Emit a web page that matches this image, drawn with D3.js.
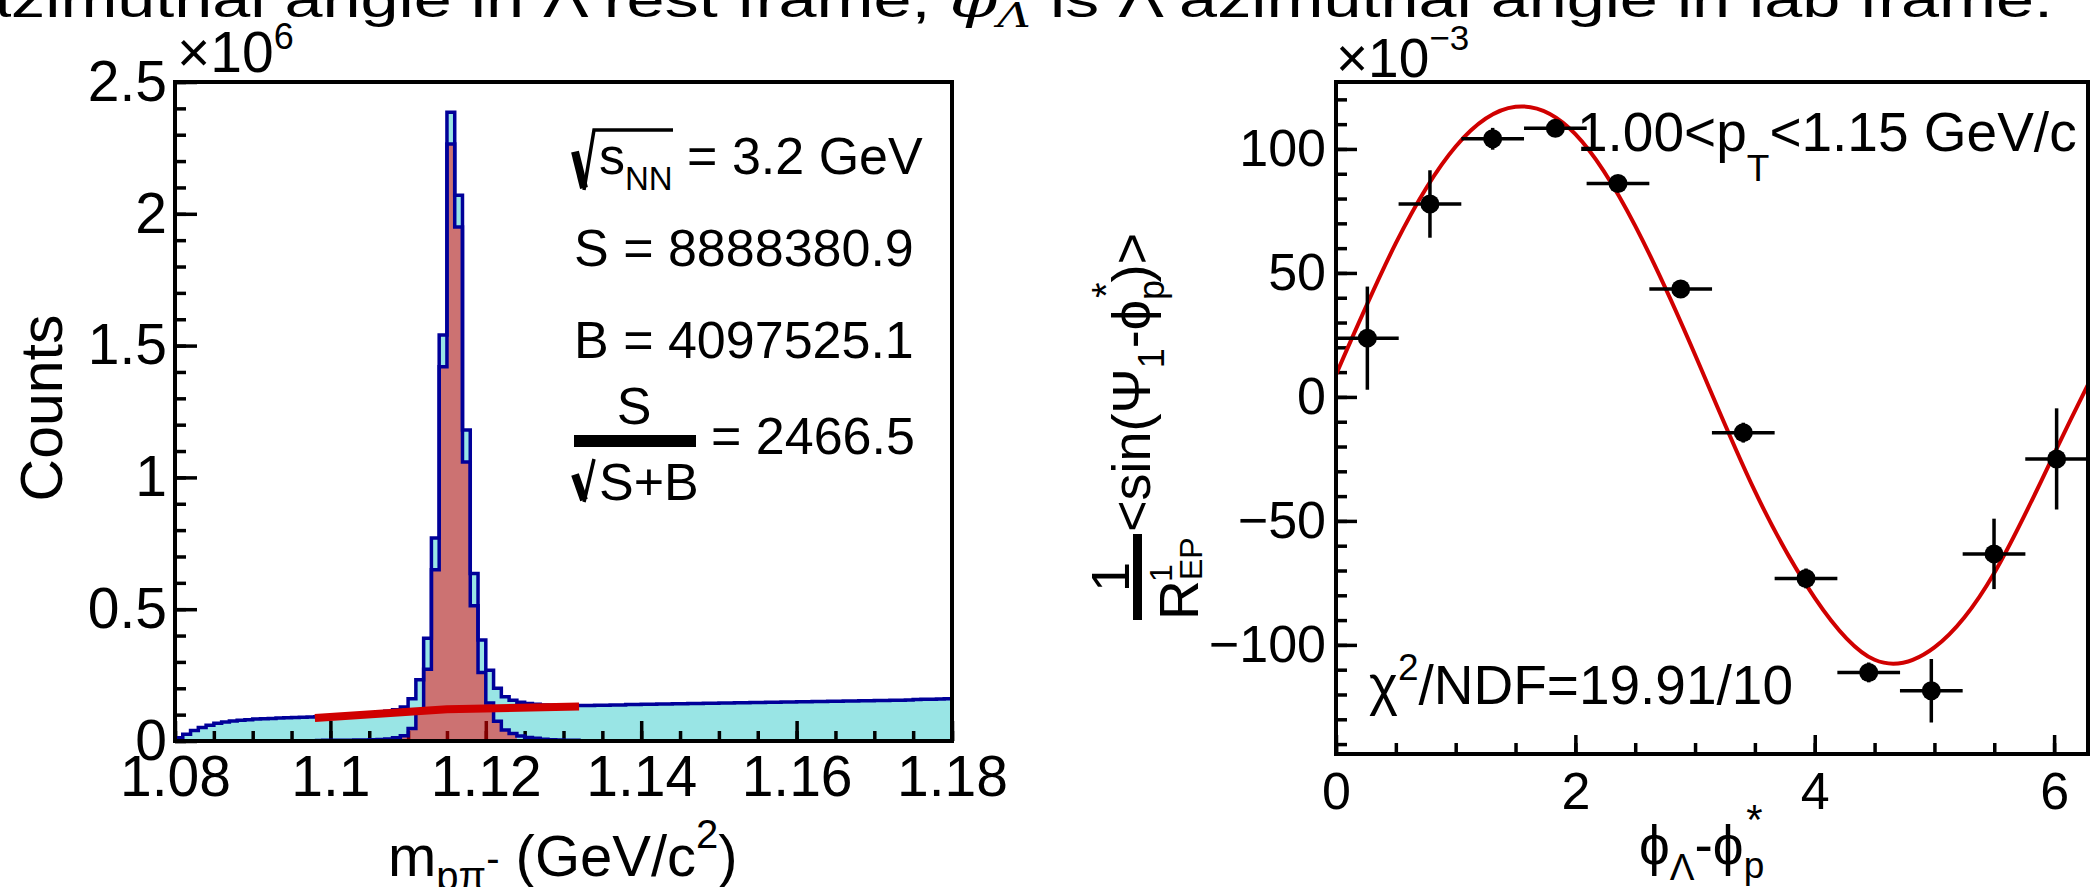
<!DOCTYPE html>
<html>
<head>
<meta charset="utf-8">
<script src="https://cdn.jsdelivr.net/npm/d3@7"></script>
<style>
  body { margin: 0; background: #fff; }
  svg text { font-family: "Liberation Sans", Arial, Helvetica, sans-serif; fill: #000; }
</style>
</head>
<body>
<svg width="2091" height="887"></svg>
<script>
// ---- left panel: p-pi invariant mass, 1 MeV bins, counts in units of 1e6
const massStart = 1.080, binW = 0.001;
const totalCounts = [
  0.012, 0.026, 0.040, 0.051, 0.060, 0.067, 0.072, 0.076, 0.079, 0.081,
  0.083, 0.084, 0.085, 0.087, 0.088, 0.089, 0.090, 0.091, 0.092, 0.093,
  0.095, 0.097, 0.099, 0.101, 0.103, 0.106, 0.109, 0.113, 0.119, 0.129,
  0.160, 0.232, 0.390, 0.770, 1.540, 2.385, 2.070, 1.180, 0.635, 0.383,
  0.268, 0.200, 0.168, 0.155, 0.147, 0.142, 0.139, 0.137, 0.136, 0.135,
  0.135, 0.135, 0.135, 0.135, 0.136, 0.136, 0.137, 0.137, 0.138, 0.138,
  0.139, 0.139, 0.140, 0.140, 0.141, 0.141, 0.142, 0.142, 0.143, 0.143,
  0.144, 0.144, 0.145, 0.145, 0.146, 0.146, 0.147, 0.147, 0.148, 0.148,
  0.149, 0.149, 0.150, 0.150, 0.151, 0.151, 0.152, 0.152, 0.153, 0.153,
  0.154, 0.154, 0.155, 0.155, 0.156, 0.157, 0.158, 0.158, 0.159, 0.160
];
// background subtracted signal, first bin at 1.098
const signalStart = 1.098;
const signalCounts = [
  0.002, 0.003, 0.003, 0.003, 0.003, 0.004, 0.004, 0.005, 0.006, 0.008,
  0.012, 0.020, 0.047, 0.116, 0.272, 0.650, 1.420, 2.265, 1.950, 1.058,
  0.513, 0.260, 0.144, 0.075, 0.042, 0.028, 0.019, 0.013, 0.010, 0.007,
  0.005, 0.004, 0.003, 0.003
];
const signalWindow = [1.109, 1.124];
const bkgFit = [[1.098, 0.087], [1.115, 0.120], [1.132, 0.131]];
const massTicks = [1.08, 1.1, 1.12, 1.14, 1.16, 1.18];
const countTicks = [0, 0.5, 1, 1.5, 2, 2.5];
const infoLines = ["S = 8888380.9", "B = 4097525.1"];

// ---- right panel: <sin(Psi1 - phi_p*)> / R vs phi, units of 1e-3
const phiCenters = [0.262, 0.785, 1.309, 1.833, 2.356, 2.880, 3.403, 3.927, 4.451, 4.974, 5.498, 6.021];
const polValues  = [23.7, 77.8, 104.1, 108.3, 86.1, 43.5, -14.4, -73.2, -111.1, -118.5, -63.3, -25.0];
const polErrors  = [20.8, 13.6, 4.4, 3.0, 3.0, 3.5, 4.0, 4.0, 4.0, 12.8, 14.2, 20.4];
const phiHalfBin = 0.262;
const fitCurve = [[0, 9], [0.5, 62], [1.0, 101], [1.5, 117], [2.0, 106], [2.5, 69], [3.0, 17],
                  [3.5, -38], [4.0, -81], [4.5, -106], [5.0, -101], [5.5, -71], [6.0, -23], [6.283, 5]];
const phiTicks = [0, 2, 4, 6];
const polTicks = [-100, -50, 0, 50, 100];

const svg = d3.select("svg");
const fmt = d => String(+d.toFixed(3));

// small helper for ROOT-like latex: parts with baseline shift s and size f
function rich(sel, parts, base) {
  let cur = 0;
  parts.forEach(p => {
    const s = p.s || 0;
    const ts = sel.append("tspan").attr("dy", s - cur).attr("font-size", p.f || base).text(p.t);
    if (p.x !== undefined) ts.attr("x", p.x);
    if (p.dx !== undefined) ts.attr("dx", p.dx);
    if (p.fam) ts.style("font-family", p.fam);
    if (p.it) ts.style("font-style", "italic");
    cur = s;
  });
  return sel;
}

function sqrtSign(g, x, top, bottom, overTo) {
  const h = bottom - top;
  g.append("line").attr("x1", x + 1).attr("y1", top + h * 0.36).attr("x2", x + 10).attr("y2", bottom - 2)
    .attr("stroke", "#000").attr("stroke-width", 8);
  g.append("polyline").attr("points", `${x + 10},${bottom} ${x + 20},${top} ${overTo || x + 20},${top}`)
    .attr("fill", "none").attr("stroke", "#000").attr("stroke-width", 3.5);
}

// ---- slide text cut at the top
const head = svg.append("text").attr("x", -27).attr("y", 17).attr("font-size", 50)
  .attr("textLength", 2080).attr("lengthAdjust", "spacingAndGlyphs");
rich(head, [
  { t: "azimuthal angle in Λ rest frame, " },
  { t: "φ", fam: "DejaVu Serif", it: true },
  { t: "Λ", f: 34, s: 10, it: true, fam: "DejaVu Serif" },
  { t: " is Λ azimuthal angle in lab frame.", s: 0 }
], 50);

// ================= LEFT PANEL =================
const xL = d3.scaleLinear().domain([1.08, 1.18]).range([175, 952]);
const yL = d3.scaleLinear().domain([0, 2.5]).range([741, 82]);

const totBins = totalCounts.map((v, i) => ({ m: massStart + i * binW, v }));
totBins.push({ m: massStart + totalCounts.length * binW, v: totalCounts[totalCounts.length - 1] });
const sigBins = signalCounts.map((v, i) => ({ m: signalStart + i * binW, v }));
sigBins.push({ m: signalStart + signalCounts.length * binW, v: 0 });

svg.append("clipPath").attr("id", "clipL").append("rect")
  .attr("x", 175).attr("y", 82).attr("width", 777).attr("height", 659);

const areaL = d3.area().curve(d3.curveStepAfter).x(d => xL(d.m)).y0(yL(0)).y1(d => yL(d.v));
const lineL = d3.line().curve(d3.curveStepAfter).x(d => xL(d.m)).y(d => yL(d.v));

const gL = svg.append("g");
gL.append("path").datum(totBins).attr("d", areaL).attr("fill", "#99e5e5").attr("clip-path", "url(#clipL)");

function styleAxis(g, size, w) {
  g.select(".domain").remove();
  g.selectAll("line").attr("stroke", "#000").attr("stroke-width", w);
  g.selectAll("text").attr("font-size", size).attr("fill", "#000")
    .style("font-family", '"Liberation Sans", Arial, sans-serif');
}

gL.append("g").attr("transform", `translate(0,${yL(0)})`)
  .call(d3.axisBottom(xL).tickValues(xL.ticks(20)).tickSize(-10).tickFormat(""))
  .call(g => styleAxis(g, 0, 3.5));
gL.append("g").attr("transform", `translate(0,${yL(0)})`)
  .call(d3.axisBottom(xL).tickValues(massTicks).tickSize(-20).tickPadding(15).tickFormat(fmt))
  .call(g => styleAxis(g, 57, 3.5));
gL.append("g").attr("transform", `translate(${xL(1.08)},0)`)
  .call(d3.axisLeft(yL).tickValues(yL.ticks(25)).tickSize(-11).tickFormat(""))
  .call(g => styleAxis(g, 0, 3.5));
gL.append("g").attr("transform", `translate(${xL(1.08)},0)`)
  .call(d3.axisLeft(yL).tickValues(countTicks).tickSize(-22).tickPadding(8).tickFormat(fmt))
  .call(g => styleAxis(g, 57, 3.5));

// signal in the mass window, semi transparent red
const winBins = sigBins.filter(d => d.m >= signalWindow[0] - 1e-9 && d.m < signalWindow[1] - 1e-9);
winBins.push({ m: signalWindow[1], v: 0 });
gL.append("path").datum(winBins).attr("d", areaL).attr("fill", "#ff0000").attr("fill-opacity", 0.5);

gL.append("path").datum(sigBins).attr("d", lineL).attr("fill", "none")
  .attr("stroke", "#000099").attr("stroke-width", 3.5);
gL.append("path").datum([{ m: 1.08, v: 0 }].concat(totBins)).attr("d", lineL).attr("fill", "none")
  .attr("stroke", "#000099").attr("stroke-width", 3.5).attr("clip-path", "url(#clipL)");

gL.append("path").datum(bkgFit)
  .attr("d", d3.line().x(d => xL(d[0])).y(d => yL(d[1])))
  .attr("fill", "none").attr("stroke", "#d00000").attr("stroke-width", 8);

gL.append("rect").attr("x", 175).attr("y", 82).attr("width", 777).attr("height", 659)
  .attr("fill", "none").attr("stroke", "#000").attr("stroke-width", 4);

// exponent
rich(svg.append("text").attr("x", 177).attr("y", 72).attr("font-size", 57),
  [{ t: "×10" }, { t: "6", f: 36, s: -23 }], 57);

// axis titles
svg.append("text").attr("transform", "translate(62,408) rotate(-90)").attr("text-anchor", "middle")
  .attr("font-size", 59).text("Counts");
rich(svg.append("text").attr("x", 388).attr("y", 876).attr("font-size", 58), [
  { t: "m" }, { t: "pπ", f: 40, s: 14 }, { t: "-", f: 40, s: -4 },
  { t: " (GeV/c", s: 0 }, { t: "2", f: 40, s: -28 }, { t: ")", s: 0 }
], 58);

// info block
const info = svg.append("g");
sqrtSign(info, 574, 130, 190, 673);
rich(info.append("text").attr("x", 599).attr("y", 174).attr("font-size", 52),
  [{ t: "s" }, { t: "NN", f: 33, s: 16 }, { t: " = 3.2 GeV", s: 0 }], 52);
infoLines.forEach((t, i) => info.append("text").attr("x", 574).attr("y", 266 + i * 92).attr("font-size", 52).text(t));
info.append("text").attr("x", 634).attr("y", 424).attr("text-anchor", "middle").attr("font-size", 52).text("S");
info.append("rect").attr("x", 574).attr("y", 435).attr("width", 122).attr("height", 12).attr("fill", "#000");
sqrtSign(info, 574, 459, 502);
info.append("text").attr("x", 599).attr("y", 500).attr("font-size", 52).text("S+B");
info.append("text").attr("x", 711).attr("y", 454).attr("font-size", 52).text("= 2466.5");

// ================= RIGHT PANEL =================
const xR = d3.scaleLinear().domain([0, 2 * Math.PI]).range([1336, 2088]);
const yR = d3.scaleLinear().domain([-144, 127]).range([754, 82]);
const gR = svg.append("g");

gR.append("g").attr("transform", `translate(0,${yR.range()[0]})`)
  .call(d3.axisBottom(xR).tickValues(xR.ticks(12)).tickSize(-11).tickFormat(""))
  .call(g => styleAxis(g, 0, 3.5));
gR.append("g").attr("transform", `translate(0,${yR.range()[0]})`)
  .call(d3.axisBottom(xR).tickValues(phiTicks).tickSize(-19).tickPadding(18).tickFormat(fmt))
  .call(g => styleAxis(g, 52, 3.5));
gR.append("g").attr("transform", `translate(${xR(0)},0)`)
  .call(d3.axisLeft(yR).tickValues(yR.ticks(27)).tickSize(-11).tickFormat(""))
  .call(g => styleAxis(g, 0, 3.5));
gR.append("g").attr("transform", `translate(${xR(0)},0)`)
  .call(d3.axisLeft(yR).tickValues(polTicks).tickSize(-21).tickPadding(10)
    .tickFormat(d => (d < 0 ? "\u2212" : "") + Math.abs(d)))
  .call(g => styleAxis(g, 52, 3.5));

gR.append("path").datum(fitCurve)
  .attr("d", d3.line().curve(d3.curveNatural).x(d => xR(d[0])).y(d => yR(d[1])))
  .attr("fill", "none").attr("stroke", "#d00000").attr("stroke-width", 4);

const pts = phiCenters.map((p, i) => ({ p, v: polValues[i], e: polErrors[i] }));
const pg = gR.append("g").selectAll("g").data(pts).join("g");
pg.append("line").attr("x1", d => xR(d.p - phiHalfBin)).attr("x2", d => xR(d.p + phiHalfBin))
  .attr("y1", d => yR(d.v)).attr("y2", d => yR(d.v)).attr("stroke", "#000").attr("stroke-width", 3.5);
pg.append("line").attr("x1", d => xR(d.p)).attr("x2", d => xR(d.p))
  .attr("y1", d => yR(d.v - d.e)).attr("y2", d => yR(d.v + d.e)).attr("stroke", "#000").attr("stroke-width", 3.5);
pg.append("circle").attr("cx", d => xR(d.p)).attr("cy", d => yR(d.v)).attr("r", 9.5).attr("fill", "#000");

gR.append("rect").attr("x", 1336).attr("y", 82).attr("width", 752).attr("height", 672)
  .attr("fill", "none").attr("stroke", "#000").attr("stroke-width", 4);

rich(svg.append("text").attr("x", 1577).attr("y", 151).attr("font-size", 55),
  [{ t: "1.00<p" }, { t: "T", f: 37, s: 30 }, { t: "<1.15 GeV/c", s: 0 }], 55);
rich(svg.append("text").attr("x", 1369).attr("y", 704).attr("font-size", 55),
  [{ t: "χ" }, { t: "2", f: 37, s: -24 }, { t: "/NDF=19.91/10", s: 0 }], 55);

rich(svg.append("text").attr("x", 1336).attr("y", 77).attr("font-size", 55),
  [{ t: "×10" }, { t: "\u22123", f: 35, s: -27 }], 55);

rich(svg.append("text").attr("x", 1639).attr("y", 864).attr("font-size", 55), [
  { t: "ϕ" }, { t: "Λ", f: 37, s: 16 }, { t: "-ϕ", s: 0 }, { t: "p", f: 37, s: 14 },
  { t: "*", f: 42, s: -30, dx: -18 }
], 55);

// rotated y title:  1/R^1_EP <sin(Psi_1 - phi_p*)>
const gT = svg.append("g").attr("transform", "translate(1150,532) rotate(-90)");
rich(gT.append("text").attr("x", 0).attr("y", 0).attr("font-size", 54), [
  { t: "<sin(Ψ" }, { t: "1", f: 36, s: 14 }, { t: "-ϕ", s: 0 }, { t: "p", f: 36, s: 14 },
  { t: "*", f: 40, s: -30, dx: -18 }, { t: ")>", s: 0 }
], 54);
gT.append("rect").attr("x", -88).attr("y", -17).attr("width", 86).attr("height", 9).attr("fill", "#000");
gT.append("text").attr("x", -45).attr("y", -21).attr("text-anchor", "middle").attr("font-size", 54).text("1");
rich(gT.append("text").attr("x", -88).attr("y", 48).attr("font-size", 55), [
  { t: "R" }, { t: "1", f: 32, s: -26, x: -50 }, { t: "EP", f: 32, s: 4, x: -48 }
], 55);
</script>
</body>
</html>
